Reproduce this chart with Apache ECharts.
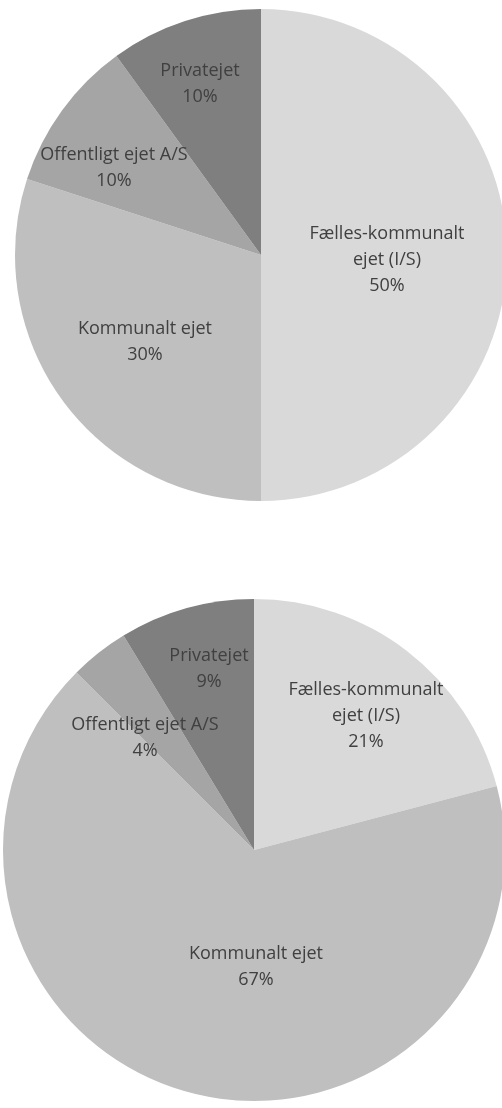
<!DOCTYPE html>
<html>
<head>
<meta charset="utf-8">
<script src="https://cdn.jsdelivr.net/npm/echarts@6/dist/echarts.min.js"></script>
<style>
  html, body { margin: 0; padding: 0; background: #fff; }
  #main { width: 502px; height: 1108px; }
</style>
</head>
<body>
<div id="main"></div>
<script>
// kategorier (samme rækkefølge i begge cirkler, med uret fra kl. 12)
var categories = ['Fælles-kommunalt\nejet (I/S)', 'Kommunalt ejet', 'Offentligt ejet A/S', 'Privatejet'];
// øverste cirkel (andel i %)
var topValues = [50, 30, 10, 10];
// nederste cirkel (andel i %, aflæst af vinklerne)
var bottomValues = [20.9, 66.6, 3.8, 8.7];

var colors = ['#d9d9d9', '#bfbfbf', '#a5a5a5', '#7f7f7f'];

// placering af etiketter i forhold til cirklens centrum
var topLabelOffsets = [[126, 5], [-116, 87], [-147, -87], [-61, -171]];
var bottomLabelOffsets = [[112, -134], [2, 117], [-109, -112], [-45, -181]];

var topCenter = [261, 255];
var bottomCenter = [254, 850];

function buildData(values) {
    return values.map(function (v, i) {
        return {name: categories[i], value: v, itemStyle: {color: colors[i]}};
    });
}

function makeSeries(values, center, radius, offsets) {
    return {
        type: 'pie',
        center: center,
        radius: [0, radius],
        startAngle: 90,
        clockwise: true,
        silent: true,
        animation: false,
        data: buildData(values),
        itemStyle: {borderWidth: 0},
        label: {
            show: true,
            position: 'inside',
            color: '#404040',
            fontFamily: 'Open Sans',
            fontSize: 18,
            lineHeight: 26,
            align: 'center',
            formatter: function (p) {
                return p.name + '\n' + Math.round(p.value) + '%';
            }
        },
        labelLine: {show: false},
        labelLayout: function (params) {
            var o = offsets[params.dataIndex];
            return {
                x: center[0] + o[0],
                y: center[1] + o[1],
                align: 'center',
                verticalAlign: 'middle'
            };
        }
    };
}

var chart = echarts.init(document.getElementById('main'), null, {renderer: 'canvas'});
var option = {
    backgroundColor: '#fff',
    animation: false,
    series: [
        makeSeries(topValues, topCenter, 246, topLabelOffsets),
        makeSeries(bottomValues, bottomCenter, 251, bottomLabelOffsets)
    ]
};
chart.setOption(option);
</script>
</body>
</html>
